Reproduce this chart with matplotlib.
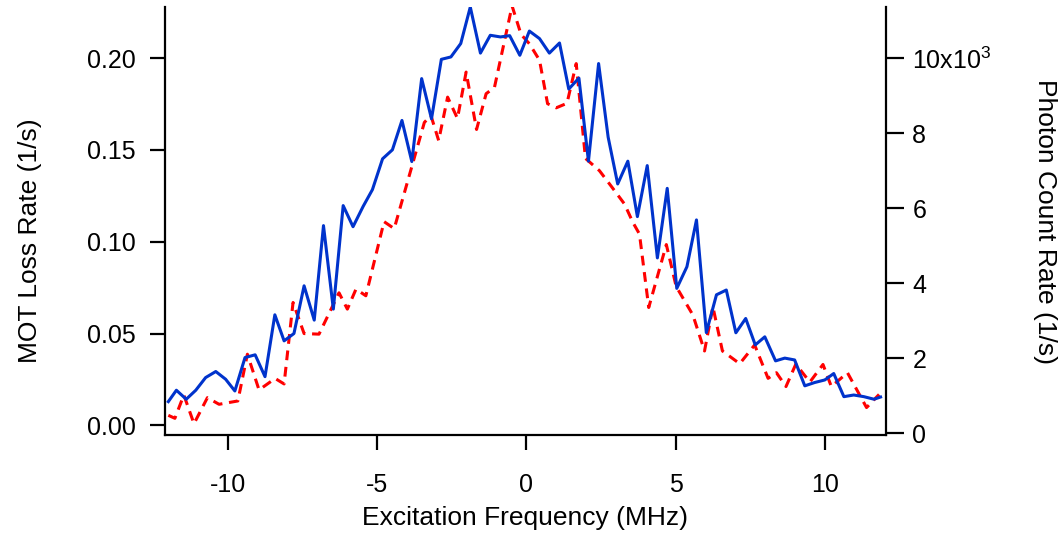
import matplotlib
matplotlib.use("Agg")
import matplotlib.pyplot as plt
from matplotlib.ticker import FuncFormatter

# MOT loss rate (left axis), blue solid
loss_freq = [
    -12.00, -11.73, -11.40, -11.08, -10.75, -10.41, -10.08, -9.77, -9.43, -9.09,
    -8.76, -8.43, -8.12, -7.79, -7.45, -7.11, -6.80, -6.47, -6.14, -5.81,
    -5.47, -5.16, -4.82, -4.49, -4.17, -3.84, -3.51, -3.18, -2.85, -2.53,
    -2.20, -1.88, -1.54, -1.21, -0.87, -0.56, -0.22, 0.10, 0.44, 0.77,
    1.11, 1.42, 1.76, 2.08, 2.42, 2.74, 3.06, 3.40, 3.72, 4.05,
    4.39, 4.72, 5.04, 5.38, 5.70, 6.03, 6.37, 6.70, 7.02, 7.35,
    7.67, 7.99, 8.35, 8.66, 8.99, 9.33, 9.66, 10.00, 10.30, 10.64,
    10.97, 11.31, 11.65, 11.87,
]
loss_rate = [
    0.0129, 0.0191, 0.0142, 0.0191, 0.0260, 0.0293, 0.0251, 0.0187, 0.0369, 0.0384,
    0.0265, 0.0602, 0.0460, 0.0500, 0.0760, 0.0573, 0.1088, 0.0633, 0.1197, 0.1082,
    0.1193, 0.1284, 0.1452, 0.1501, 0.1661, 0.1437, 0.1889, 0.1670, 0.1994, 0.2007,
    0.2080, 0.2279, 0.2028, 0.2125, 0.2116, 0.2123, 0.2016, 0.2148, 0.2107, 0.2028,
    0.2083, 0.1832, 0.1892, 0.1439, 0.1971, 0.1570, 0.1315, 0.1439, 0.1137, 0.1415,
    0.0912, 0.1291, 0.0746, 0.0864, 0.1119, 0.0505, 0.0711, 0.0737, 0.0504, 0.0582,
    0.0438, 0.0482, 0.0351, 0.0366, 0.0356, 0.0215, 0.0233, 0.0247, 0.0282, 0.0156,
    0.0165, 0.0156, 0.0142, 0.0154,
]

# photon count rate (right axis), red dashed
photon_freq = [
    -12.00, -11.78, -11.48, -11.14, -10.69, -10.30, -9.67, -9.35, -8.96, -8.42,
    -8.12, -7.82, -7.45, -6.95, -6.28, -6.00, -5.71, -5.38, -4.77, -4.43,
    -3.42, -3.20, -2.94, -2.64, -2.31, -2.02, -1.67, -1.35, -1.07, -0.48,
    -0.18, 0.10, 0.44, 0.71, 1.00, 1.36, 1.67, 1.98, 2.45, 2.85,
    3.29, 3.57, 3.79, 4.10, 4.69, 5.02, 5.58, 5.97, 6.25, 6.57,
    7.15, 7.65, 8.10, 8.38, 8.70, 9.03, 9.50, 9.94, 10.22, 10.76,
    11.40, 11.82,
]
photon_rate = [
    473, 393, 1016, 249, 944, 767, 856, 2104, 1150, 1457,
    1310, 3484, 2655, 2639, 3743, 3307, 3842, 3663, 5642, 5455,
    8289, 8476, 7807, 8965, 8396, 9634, 8102, 9056, 9225, 11400,
    10640, 10390, 9950, 8790, 8680, 8800, 9860, 7330, 7000, 6580,
    6110, 5620, 5310, 3350, 5030, 3910, 3150, 2190, 3370, 2190,
    1850, 2350, 1460, 1610, 1240, 1840, 1360, 1830, 1240, 1610,
    680, 1030,
]

left_ticks = [0.00, 0.05, 0.10, 0.15, 0.20]
right_ticks = [0, 2000, 4000, 6000, 8000, 10000]
bottom_ticks = [-10, -5, 0, 5, 10]

plt.rcParams["font.family"] = ["Liberation Sans", "DejaVu Sans"]
plt.rcParams["mathtext.fontset"] = "custom"
plt.rcParams["mathtext.rm"] = "Liberation Sans"
plt.rcParams["mathtext.default"] = "regular"
plt.rcParams["axes.unicode_minus"] = False

fig = plt.figure(figsize=(10.6, 5.36), dpi=100)
ax = fig.add_axes([0.1557, 0.1884, 0.6801, 0.7985])
ax2 = ax.twinx()

ax.plot(loss_freq, loss_rate, color="#0033cc", lw=2.2, zorder=3)
ax2.plot(photon_freq, photon_rate, color="#ff0000", lw=2.2, dashes=(3.2, 2.2))
ax.set_zorder(2)
ax.patch.set_visible(False)

ax.set_xlim(-12.11, 12.05)
ax.set_ylim(-0.0053, 0.2279)
ax2.set_ylim(-53, 11370)

ax.set_xticks(bottom_ticks)
ax.set_yticks(left_ticks)
ax2.set_yticks(right_ticks)
ax.yaxis.set_major_formatter(FuncFormatter(lambda v, p: "%.2f" % v))


def photon_fmt(v, p):
    if v >= 10000:
        return r"10x10$^{3}$"
    return "%d" % (v / 1000)


ax2.yaxis.set_major_formatter(FuncFormatter(photon_fmt))

for a in (ax, ax2):
    a.spines["top"].set_visible(False)
    for s in a.spines.values():
        s.set_linewidth(1.6)
ax.spines["right"].set_visible(False)
ax2.spines["left"].set_visible(False)
ax2.spines["bottom"].set_visible(False)

ax.tick_params(axis="y", direction="out", length=11, width=1.6,
               labelsize=18, pad=10)
ax.tick_params(axis="x", direction="out", length=11, width=1.6,
               labelsize=18, pad=16)
ax2.tick_params(axis="y", direction="out", length=13, width=1.6,
                labelsize=18, pad=6)

ax.set_xlabel("Excitation Frequency (MHz)", fontsize=19, va="center")
ax.set_ylabel("MOT Loss Rate (1/s)", fontsize=19, va="center", ha="center")
ax2.set_ylabel("Photon Count Rate (1/s)", fontsize=19, rotation=-90,
               va="center", ha="center")
ax.xaxis.set_label_coords(0.50, -0.194)
ax.yaxis.set_label_coords(-0.187, 0.453)
ax2.yaxis.set_label_coords(1.2205, 0.50)

fig.savefig("out.png", dpi=100)
